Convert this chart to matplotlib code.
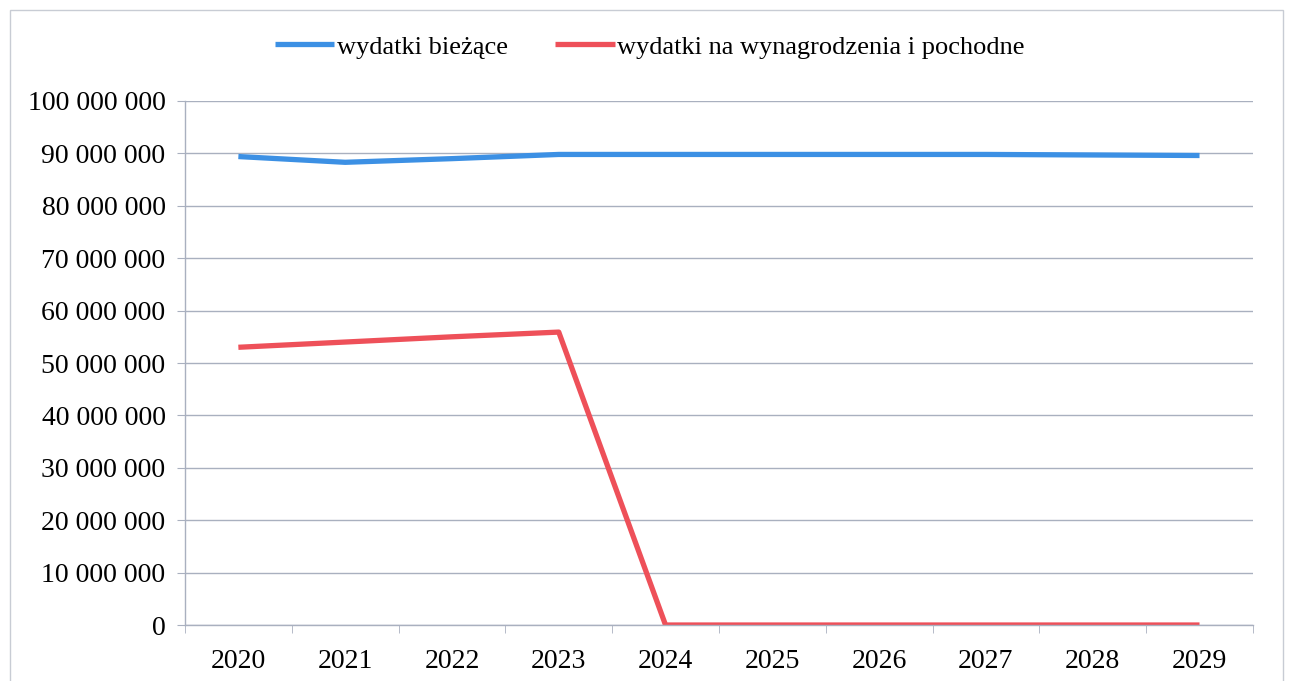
import numpy as np
import matplotlib.pyplot as plt
from matplotlib.patches import Rectangle
from matplotlib.ticker import FuncFormatter, MultipleLocator

# ---- data ----
years = ["2020", "2021", "2022", "2023", "2024", "2025", "2026", "2027", "2028", "2029"]
wydatki_biezace = [89_400_000, 88_300_000, 89_000_000, 89_800_000, 89_800_000,
                   89_800_000, 89_800_000, 89_800_000, 89_700_000, 89_600_000]
wydatki_wynagrodzenia = [53_000_000, 54_000_000, 55_000_000, 55_900_000, 0,
                         0, 0, 0, 0, 0]
series_labels = ["wydatki bieżące", "wydatki na wynagrodzenia i pochodne"]

BLUE = "#3c90e4"
RED = "#ee5059"
GRID = "#a9b0bf"

plt.rcParams["font.family"] = ["Liberation Serif", "DejaVu Serif"]

fig = plt.figure(figsize=(12.89, 6.81), dpi=100)
ax = fig.add_axes([0.1435, 0.0822, 0.8285, 0.7695])

x = np.arange(len(years))
ax.plot(x, wydatki_biezace, color=BLUE, lw=3.8, label=series_labels[0], solid_capstyle="butt")
ax.plot(x, wydatki_wynagrodzenia, color=RED, lw=3.8, label=series_labels[1], solid_capstyle="butt")

ax.set_xlim(-0.5, len(years) - 0.5)
ax.set_ylim(0, 100_000_000)
ax.yaxis.set_major_locator(MultipleLocator(10_000_000))
ax.yaxis.set_major_formatter(FuncFormatter(lambda v, _: f"{int(v):,}".replace(",", " ")))
ax.set_xticks(x)
ax.set_xticklabels(years)
ax.set_xticks(np.arange(-0.5, len(years)), minor=True)
ax.tick_params(axis="x", which="major", length=0, labelsize=20, pad=17)
ax.tick_params(axis="x", which="minor", length=6, color=GRID, direction="out")
ax.tick_params(axis="y", length=6, color=GRID, labelsize=20, pad=8)

ax.grid(axis="y", color=GRID, lw=1)
ax.set_axisbelow(True)
for side in ("top", "right"):
    ax.spines[side].set_visible(False)
for side in ("left", "bottom"):
    ax.spines[side].set_color(GRID)
    ax.spines[side].set_linewidth(1)

fig.legend(loc="center", bbox_to_anchor=(0.504, 0.931), ncol=2, frameon=False,
           fontsize=19, handlelength=2.25, handletextpad=0.1, columnspacing=1.8)

# outer chart frame
fig.add_artist(Rectangle((10 / 1289, -0.01), 1273 / 1289, 1 - 10 / 681 + 0.01,
                         transform=fig.transFigure, fill=False, edgecolor="#c8ccd4", lw=1))

fig.savefig("out.png", dpi=100)
